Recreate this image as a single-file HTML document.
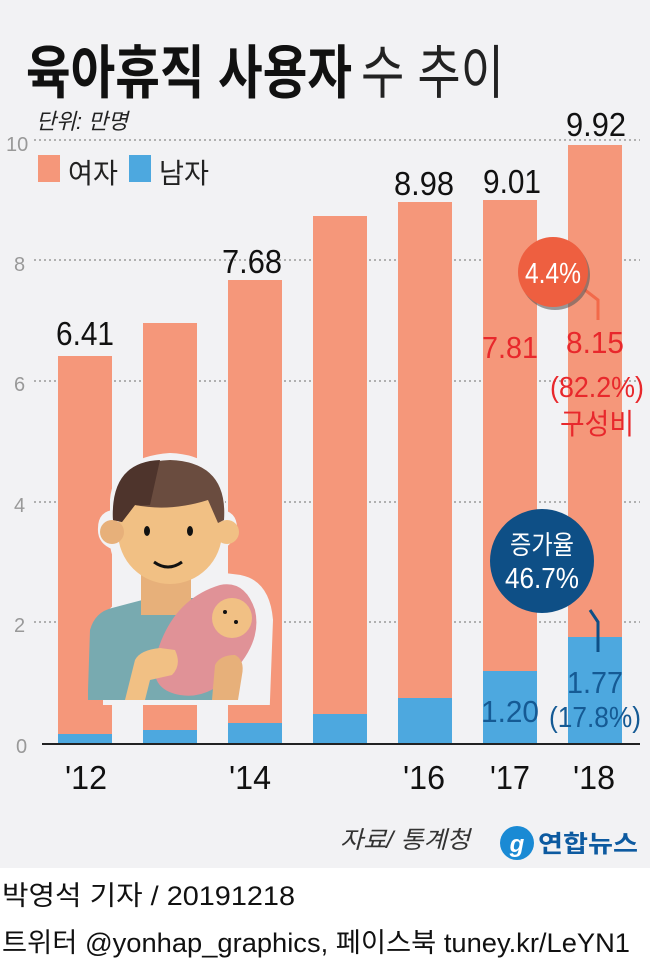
<!DOCTYPE html>
<html><head><meta charset="utf-8"><style>
body{margin:0;width:650px;height:968px;background:#fff;overflow:hidden}
svg{display:block}
text{font-family:"Liberation Sans","Noto Sans CJK KR",sans-serif}
</style></head><body>
<svg width="650" height="968" viewBox="0 0 650 968">
<rect x="0" y="0" width="650" height="868" fill="#f2f2f4"/>
<text x="26" y="93" font-size="58" font-weight="bold" fill="#111" textLength="326" lengthAdjust="spacingAndGlyphs">육아휴직 사용자</text>
<text x="361" y="93" font-size="58" fill="#222" textLength="143" lengthAdjust="spacingAndGlyphs">수 추이</text>
<text x="36" y="129" font-size="22" font-style="italic" fill="#222" textLength="92" lengthAdjust="spacingAndGlyphs">단위: 만명</text>
<g stroke="#999" stroke-width="1.5" stroke-dasharray="2,3">
<line x1="34" y1="140" x2="640" y2="140"/><line x1="34" y1="260" x2="640" y2="260"/><line x1="34" y1="381" x2="640" y2="381"/><line x1="34" y1="502" x2="640" y2="502"/><line x1="34" y1="622" x2="640" y2="622"/></g>
<g font-size="20" fill="#999">
<text x="6" y="151">10</text><text x="14" y="271">8</text><text x="14" y="391">6</text><text x="14" y="512">4</text><text x="14" y="632">2</text><text x="16" y="753">0</text></g>
<rect x="38" y="155" width="22" height="27" fill="#f5977a"/><text x="68" y="183" font-size="28" fill="#222" textLength="50" lengthAdjust="spacingAndGlyphs">여자</text>
<rect x="129" y="155" width="22" height="27" fill="#4da8df"/><text x="159" y="183" font-size="28" fill="#222" textLength="50" lengthAdjust="spacingAndGlyphs">남자</text>
<g fill="#f5977a">
<rect x="58" y="356" width="54" height="387"/><rect x="143" y="323" width="54" height="420"/><rect x="228" y="280" width="54" height="463"/><rect x="313" y="216" width="54" height="527"/><rect x="398" y="202" width="54" height="541"/><rect x="483" y="200" width="54" height="543"/><rect x="568" y="145" width="54" height="598"/></g>
<g fill="#4da8df">
<rect x="58" y="734" width="54" height="9"/><rect x="143" y="730" width="54" height="13"/><rect x="228" y="723" width="54" height="20"/><rect x="313" y="714" width="54" height="29"/><rect x="398" y="698" width="54" height="45"/><rect x="483" y="671" width="54" height="72"/><rect x="568" y="637" width="54" height="106"/></g>
<line x1="42" y1="744" x2="640" y2="744" stroke="#222" stroke-width="2"/>
<g font-size="33" fill="#111" text-anchor="middle">
<text x="85" y="345" textLength="58" lengthAdjust="spacingAndGlyphs">6.41</text><text x="252" y="273" textLength="60" lengthAdjust="spacingAndGlyphs">7.68</text><text x="424" y="195" textLength="60" lengthAdjust="spacingAndGlyphs">8.98</text><text x="512" y="193" textLength="58" lengthAdjust="spacingAndGlyphs">9.01</text><text x="596" y="136" textLength="60" lengthAdjust="spacingAndGlyphs">9.92</text></g>
<g font-size="33" fill="#111" text-anchor="middle">
<text x="86" y="789" textLength="42" lengthAdjust="spacingAndGlyphs">'12</text><text x="250" y="789" textLength="42" lengthAdjust="spacingAndGlyphs">'14</text><text x="424" y="789" textLength="42" lengthAdjust="spacingAndGlyphs">'16</text><text x="510" y="789" textLength="40" lengthAdjust="spacingAndGlyphs">'17</text><text x="594" y="789" textLength="42" lengthAdjust="spacingAndGlyphs">'18</text></g>
<g>
<path d="M108 690 L108 625 Q110 610 125 605 L145 598 L145 585 Q120 575 115 545 Q102 540 103 528 Q103 515 115 515 L115 500 Q118 462 170 458 Q218 460 220 500 L220 515 Q232 515 232 528 Q230 540 220 545 Q216 562 200 575 L240 580 Q265 585 268 620 L265 700 L108 700 Z" fill="#f2f2f4" stroke="#f2f2f4" stroke-width="10"/>
<path d="M88 690 L90 630 Q95 612 112 608 L150 598 L196 598 Q225 605 230 640 L230 700 L88 700 Z" fill="#78aab0"/>
<rect x="141" y="570" width="50" height="45" fill="#e7b07a"/>
<ellipse cx="170" cy="532" rx="52" ry="52" fill="#f1c084"/>
<circle cx="112" cy="532" r="12" fill="#e7b07a"/><circle cx="227" cy="532" r="12" fill="#f1c084"/>
<path d="M113 520 Q110 462 170 460 Q228 462 224 520 L218 523 L208 500 Q170 512 135 505 L122 522 Z" fill="#6a4c3f"/>
<path d="M113 520 Q110 462 160 460 L150 505 Q140 506 135 505 L122 522 Z" fill="#4e342c"/>
<ellipse cx="147" cy="531" rx="3" ry="5" fill="#111"/><ellipse cx="190" cy="531" rx="3" ry="5" fill="#111"/>
<path d="M154 562 Q168 572 182 562" stroke="#111" stroke-width="3" fill="none"/>
<path d="M155 660 Q170 600 220 585 Q245 580 255 610 Q262 640 235 670 Q210 700 180 695 Q150 690 155 660 Z" fill="#e09297"/>
<circle cx="232" cy="618" r="20" fill="#f1c084"/>
<circle cx="225" cy="612" r="2" fill="#111"/><circle cx="236" cy="622" r="2" fill="#111"/>
<path d="M125 700 L135 660 Q140 650 160 648 L175 650 Q182 665 172 675 L150 680 L145 700 Z" fill="#f1c084"/>
<path d="M212 700 L215 665 Q220 655 235 655 Q245 660 242 675 L238 700 Z" fill="#e7b07a"/>
</g>
<text x="510" y="358" font-size="31" fill="#e8282c" text-anchor="middle" textLength="56" lengthAdjust="spacingAndGlyphs">7.81</text>
<text x="595" y="353" font-size="31" fill="#e8282c" text-anchor="middle" textLength="58" lengthAdjust="spacingAndGlyphs">8.15</text>
<text x="597" y="397" font-size="29" fill="#e8282c" text-anchor="middle" textLength="94" lengthAdjust="spacingAndGlyphs">(82.2%)</text>
<text x="597" y="434" font-size="29" fill="#e8282c" text-anchor="middle" textLength="74" lengthAdjust="spacingAndGlyphs">구성비</text>
<path d="M585 290 L598 300 L598 320" stroke="#f26a4a" stroke-width="3" fill="none"/>
<circle cx="555" cy="275" r="35" fill="#5a5a5a" opacity="0.6"/>
<circle cx="553" cy="272" r="35" fill="#ee5f40"/>
<text x="553" y="283" font-size="29" fill="#fff" text-anchor="middle" textLength="56" lengthAdjust="spacingAndGlyphs">4.4%</text>
<path d="M590 610 L598 622 L598 652" stroke="#0e4f86" stroke-width="3" fill="none"/>
<circle cx="542" cy="561" r="52" fill="#0e4f86"/>
<text x="542" y="554" font-size="26" fill="#fff" text-anchor="middle" textLength="64" lengthAdjust="spacingAndGlyphs">증가율</text>
<text x="542" y="588" font-size="29" fill="#fff" text-anchor="middle" textLength="74" lengthAdjust="spacingAndGlyphs">46.7%</text>
<text x="510" y="722" font-size="31" fill="#155a94" text-anchor="middle" textLength="58" lengthAdjust="spacingAndGlyphs">1.20</text>
<text x="595" y="693" font-size="31" fill="#155a94" text-anchor="middle" textLength="56" lengthAdjust="spacingAndGlyphs">1.77</text>
<text x="595" y="727" font-size="29" fill="#155a94" text-anchor="middle" textLength="92" lengthAdjust="spacingAndGlyphs">(17.8%)</text>
<text x="340" y="848" font-size="24" font-style="italic" fill="#333" textLength="130" lengthAdjust="spacingAndGlyphs">자료/ 통계청</text>
<circle cx="517" cy="843" r="17" fill="#1a8ad4"/>
<text x="517" y="852" font-size="24" fill="#fff" text-anchor="middle" font-style="italic" font-weight="bold">g</text>
<text x="538" y="852" font-size="24" font-weight="bold" fill="#0d5aa0" textLength="100" lengthAdjust="spacingAndGlyphs">연합뉴스</text>
<text x="2" y="905" font-size="27" fill="#111" textLength="293" lengthAdjust="spacingAndGlyphs">박영석 기자 /  20191218</text>
<text x="2" y="952" font-size="27" fill="#111" textLength="628" lengthAdjust="spacingAndGlyphs">트위터 @yonhap_graphics, 페이스북 tuney.kr/LeYN1</text>
</svg>
</body></html>
